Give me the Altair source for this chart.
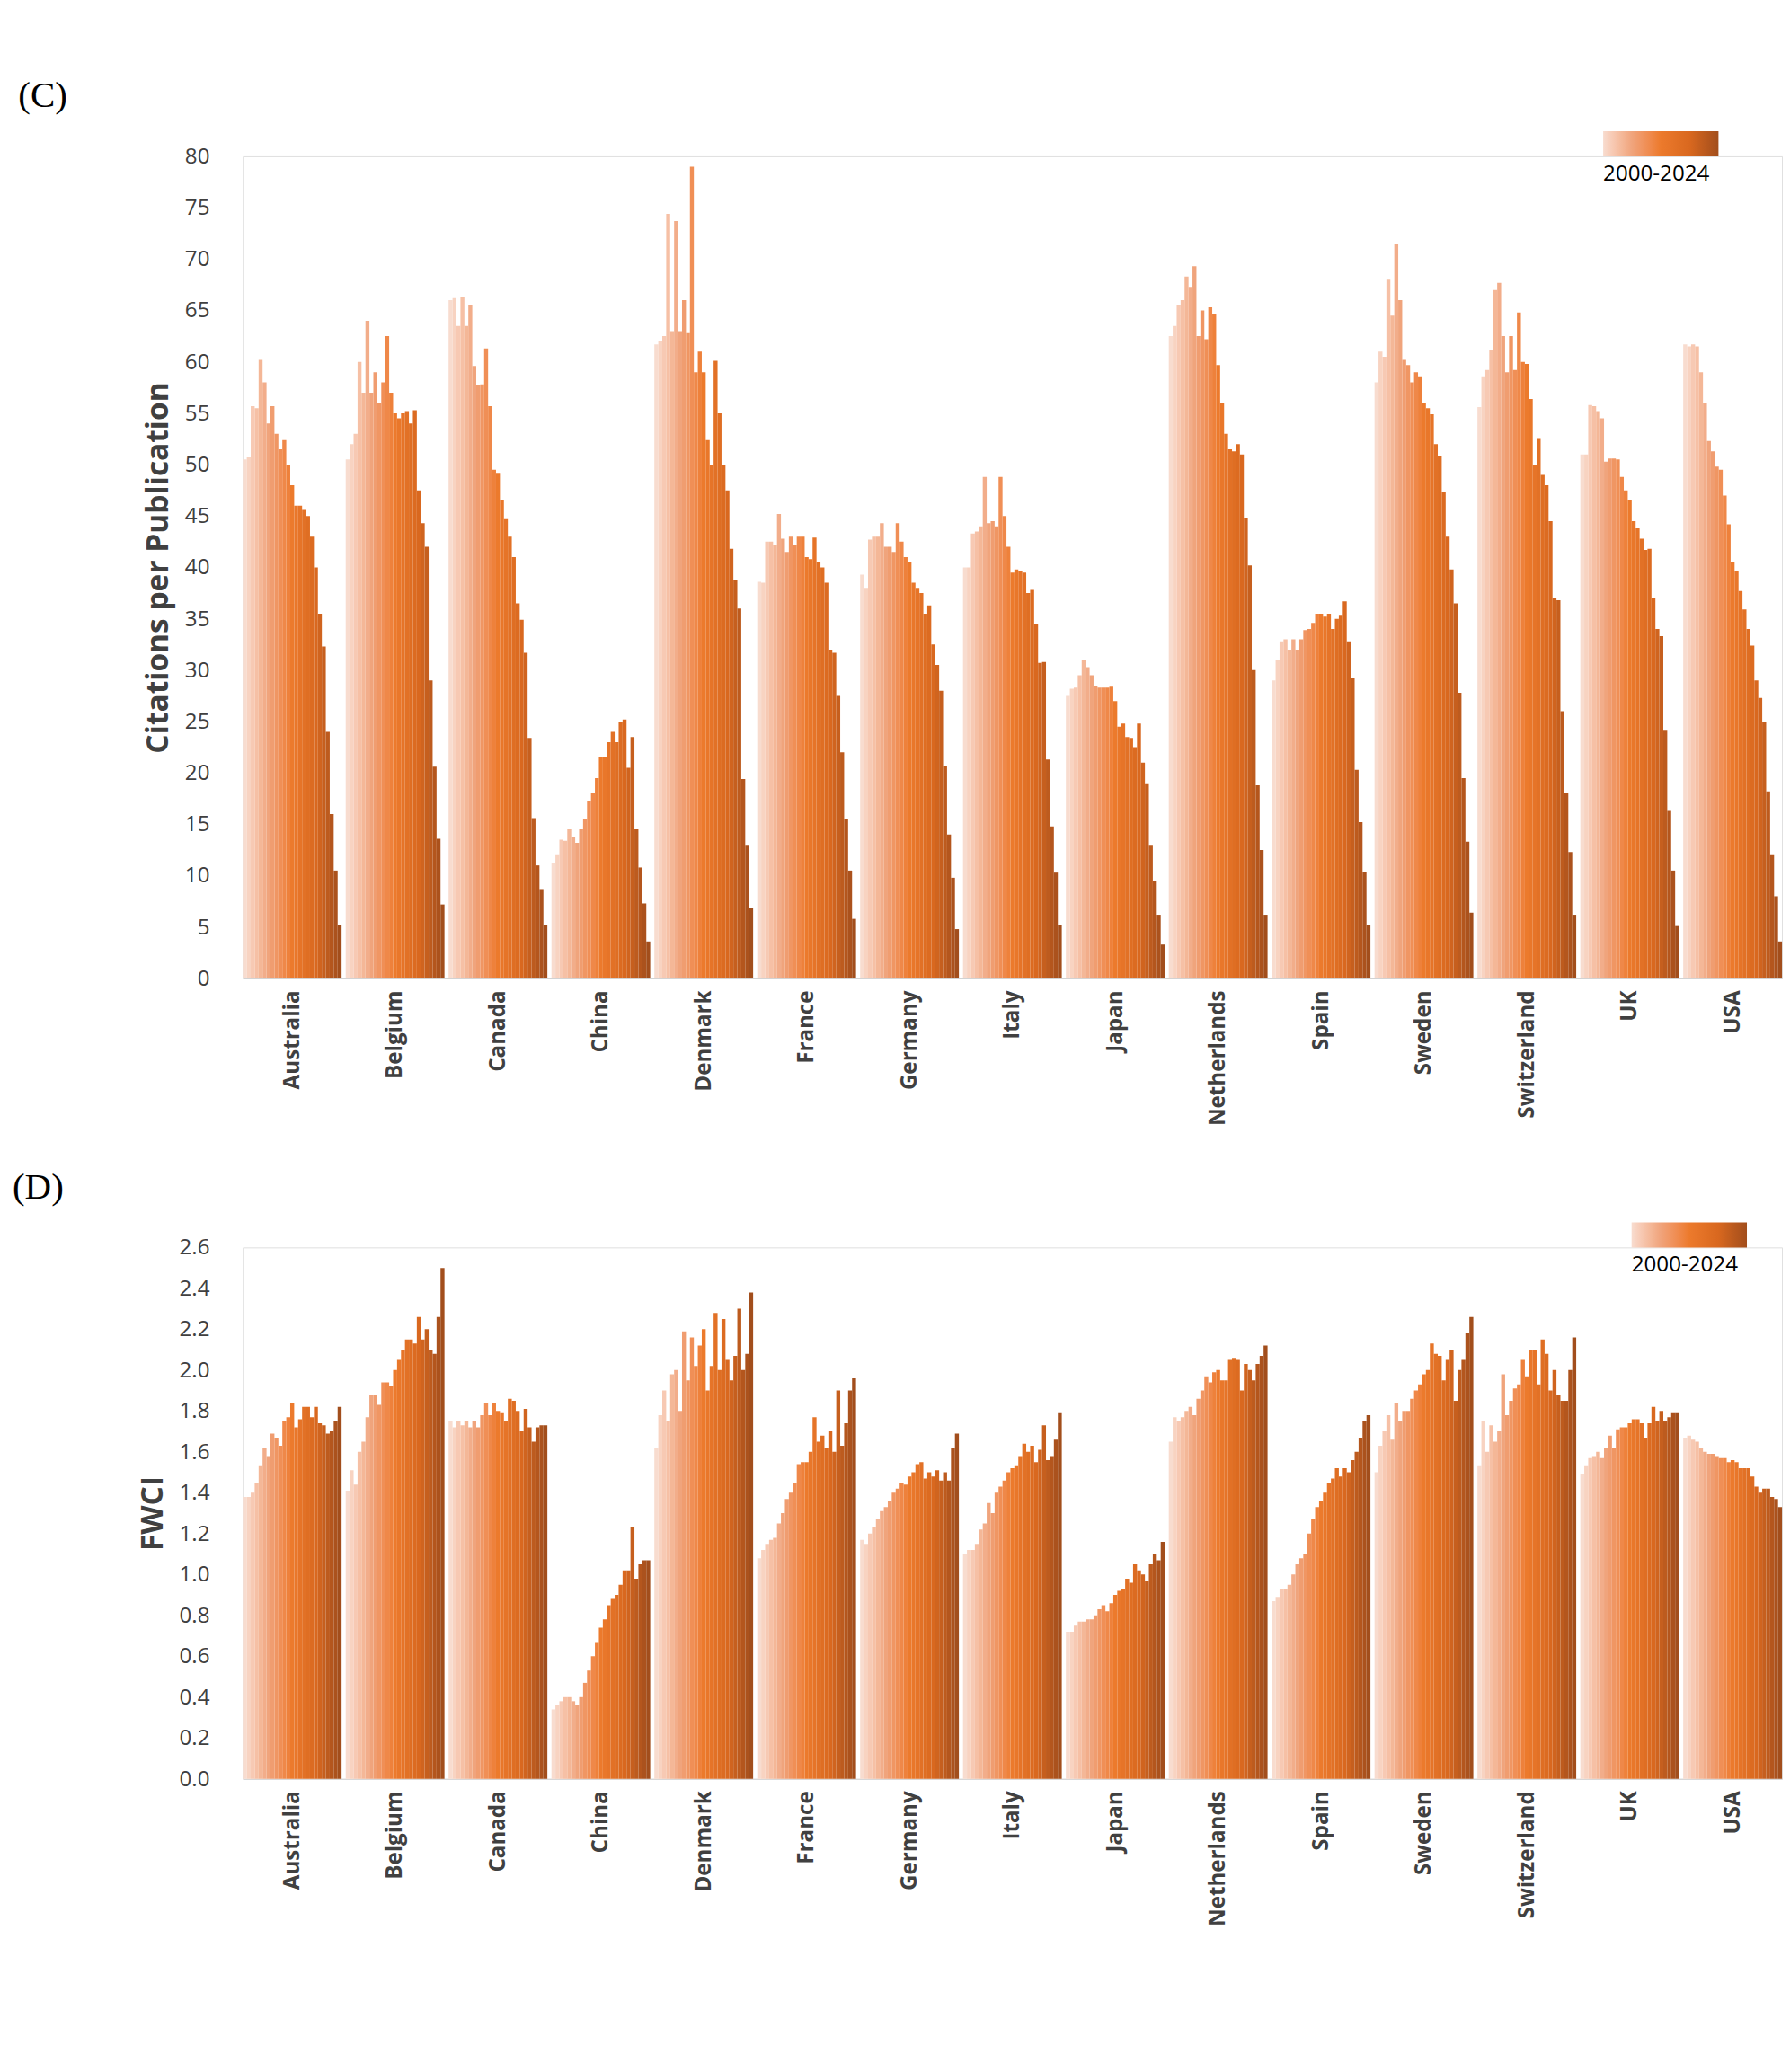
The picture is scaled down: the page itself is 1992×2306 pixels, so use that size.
import altair as alt
import pandas as pd

countries = ["Australia", "Belgium", "Canada", "China", "Denmark", "France", "Germany",
             "Italy", "Japan", "Netherlands", "Spain", "Sweden", "Switzerland", "UK", "USA"]
years = list(range(2000, 2025))

cpp = {
    "Australia": [50.5, 50.7, 55.7, 55.5, 60.2, 58, 54, 55.7, 53, 51.5, 52.4, 50, 48, 46, 46, 45.6, 45, 43, 40, 35.5, 32.3, 24, 16, 10.5, 5.2],
    "Belgium": [50.5, 52, 53, 60, 57, 64, 57, 59, 56, 58, 62.5, 57, 55, 54.5, 55, 55.2, 54, 55.3, 47.5, 44.3, 42, 29, 20.6, 13.6, 7.2],
    "Canada": [66, 66.2, 63.5, 66.3, 63.5, 65.5, 59.6, 57.7, 57.8, 61.3, 55.7, 49.5, 49.2, 46.5, 44.7, 43, 41, 36.5, 34.9, 31.7, 23.4, 15.6, 11, 8.7, 5.2],
    "China": [11.2, 12, 13.5, 13.4, 14.5, 13.8, 13.2, 14.5, 15.5, 17.3, 18, 19.5, 21.5, 21.5, 23, 24, 23, 25, 25.2, 20.5, 23.5, 14.5, 10.8, 7.3, 3.6],
    "Denmark": [61.7, 62, 62.5, 74.4, 63, 73.7, 63, 66, 62.8, 79, 59, 61, 59, 52.4, 50, 60.1, 55, 50, 47.5, 41.8, 38.8, 36, 19.4, 13, 6.9],
    "France": [38.6, 38.5, 42.5, 42.5, 42.2, 45.2, 42.8, 41.5, 43, 42.2, 43, 43, 41, 40.8, 42.9, 40.5, 40, 38.5, 32, 31.7, 27.5, 22, 15.5, 10.5, 5.8],
    "Germany": [39.3, 38, 42.7, 43, 43, 44.3, 42, 42, 41.5, 44.3, 42.5, 41, 40.5, 38.5, 38, 37.5, 35.5, 36.3, 32.5, 30.5, 28, 20.7, 14, 9.8, 4.8],
    "Italy": [40, 40, 43.3, 43.5, 44, 48.8, 44.3, 44.5, 44, 48.8, 45, 42, 39.5, 39.8, 39.7, 39.5, 37.5, 37.8, 34.5, 30.7, 30.8, 21.3, 14.8, 10.3, 5.2],
    "Japan": [27.5, 28.2, 28.3, 29.5, 31, 30.3, 29.5, 28.5, 28.3, 28.3, 28.3, 28.4, 27, 24.5, 24.8, 23.5, 23.4, 22.5, 24.8, 21, 19, 13, 9.5, 6.2, 3.3],
    "Netherlands": [62.5, 63.5, 65.5, 66, 68.3, 67.3, 69.3, 62.5, 65, 62.2, 65.3, 64.7, 59.7, 56, 53, 51.5, 51.3, 52, 51, 44.8, 40.2, 30, 18.8, 12.5, 6.2],
    "Spain": [29, 31, 32.8, 33, 32, 33, 32, 33, 33.9, 34, 34.6, 35.5, 35.5, 35.2, 35.5, 34, 35, 35.3, 36.7, 32.8, 29.2, 20.3, 15.2, 10.4, 5.2],
    "Sweden": [58, 61, 60.5, 68, 64.5, 71.5, 66, 60.2, 59.7, 58, 59, 58.5, 56, 55.5, 54.9, 52, 50.8, 47.3, 43, 39.8, 36.5, 27.8, 19.5, 13.3, 6.4],
    "Switzerland": [55.6, 58.5, 59.2, 61.2, 67, 67.7, 62.5, 59, 62.5, 59.2, 64.8, 60, 59.8, 56.4, 50, 52.5, 49, 48, 44.5, 37, 36.8, 26, 18, 12.3, 6.2],
    "UK": [51, 51, 55.8, 55.7, 55.2, 54.5, 50.3, 50.6, 50.6, 50.5, 48.8, 47.5, 46.5, 44.5, 43.8, 42.8, 41.7, 41.8, 37, 34, 33.3, 24.2, 16.3, 10.5, 5.1],
    "USA": [61.7, 61.5, 61.7, 61.5, 59, 56, 52.3, 51.3, 49.8, 49.5, 47, 44.2, 40.5, 39.6, 37.7, 35.9, 34, 32.4, 29, 27.3, 25, 18.2, 12, 8, 3.6],
}

fwci = {
    "Australia": [1.38, 1.38, 1.4, 1.45, 1.53, 1.62, 1.58, 1.69, 1.67, 1.63, 1.75, 1.77, 1.84, 1.72, 1.76, 1.82, 1.82, 1.77, 1.82, 1.74, 1.73, 1.69, 1.7, 1.75, 1.82],
    "Belgium": [1.41, 1.51, 1.44, 1.6, 1.65, 1.77, 1.88, 1.88, 1.83, 1.94, 1.94, 1.92, 2.0, 2.05, 2.1, 2.15, 2.15, 2.13, 2.26, 2.15, 2.2, 2.1, 2.08, 2.26, 2.5],
    "Canada": [1.75, 1.72, 1.75, 1.73, 1.75, 1.72, 1.75, 1.72, 1.78, 1.84, 1.78, 1.84, 1.8, 1.79, 1.75, 1.86, 1.85, 1.8, 1.7, 1.81, 1.72, 1.65, 1.72, 1.73, 1.73],
    "China": [0.34, 0.36, 0.38, 0.4, 0.4, 0.38, 0.36, 0.4, 0.47, 0.53, 0.6, 0.67, 0.74, 0.78, 0.85, 0.88, 0.9, 0.95, 1.02, 1.02, 1.23, 0.98, 1.05, 1.07, 1.07],
    "Denmark": [1.62, 1.78, 1.9, 1.75, 1.98, 2.0, 1.8, 2.19, 1.95, 2.16, 2.02, 2.12, 2.2, 1.9, 2.02, 2.28, 2.0, 2.25, 2.05, 1.95, 2.07, 2.3, 2.0, 2.08, 2.38],
    "France": [1.08, 1.12, 1.15, 1.17, 1.18, 1.25, 1.3, 1.37, 1.4, 1.45, 1.54, 1.55, 1.55, 1.6, 1.77, 1.65, 1.68, 1.62, 1.7, 1.6, 1.9, 1.63, 1.74, 1.9, 1.96],
    "Germany": [1.17, 1.15, 1.2, 1.23, 1.27, 1.31, 1.33, 1.36, 1.4, 1.42, 1.45, 1.44, 1.48, 1.5, 1.54, 1.55, 1.47, 1.5, 1.48, 1.51, 1.46, 1.5, 1.46, 1.62, 1.69],
    "Italy": [1.1, 1.12, 1.12, 1.15, 1.22, 1.25, 1.35, 1.3, 1.4, 1.43, 1.46, 1.5, 1.52, 1.53, 1.58, 1.64, 1.6, 1.63, 1.55, 1.61, 1.73, 1.56, 1.58, 1.66, 1.79],
    "Japan": [0.72, 0.72, 0.75, 0.77, 0.77, 0.78, 0.78, 0.8, 0.83, 0.85, 0.82, 0.86, 0.9, 0.92, 0.93, 0.98, 0.96, 1.05, 1.02, 1.0, 0.97, 1.05, 1.1, 1.07, 1.16],
    "Netherlands": [1.65, 1.77, 1.75, 1.77, 1.8, 1.82, 1.78, 1.86, 1.9, 1.97, 1.94, 1.99, 2.0, 1.95, 1.95, 2.05, 2.06, 2.05, 1.9, 2.03, 2.0, 1.95, 2.03, 2.07, 2.12],
    "Spain": [0.87, 0.89, 0.93, 0.93, 0.95, 1.0, 1.05, 1.08, 1.1, 1.2, 1.27, 1.33, 1.36, 1.4, 1.45, 1.47, 1.52, 1.48, 1.52, 1.5, 1.56, 1.6, 1.67, 1.75, 1.78],
    "Sweden": [1.5, 1.63, 1.7, 1.78, 1.66, 1.84, 1.75, 1.8, 1.8, 1.86, 1.9, 1.93, 1.98, 2.0, 2.13, 2.08, 2.07, 1.95, 2.05, 2.1, 1.85, 2.0, 2.05, 2.18, 2.26],
    "Switzerland": [1.53, 1.75, 1.6, 1.73, 1.65, 1.7, 1.98, 1.78, 1.85, 1.91, 1.93, 2.05, 1.97, 2.1, 2.1, 1.93, 2.15, 2.08, 1.9, 2.0, 1.88, 1.85, 1.85, 2.0, 2.16],
    "UK": [1.49, 1.53, 1.57, 1.58, 1.6, 1.57, 1.62, 1.68, 1.62, 1.71, 1.72, 1.72, 1.74, 1.76, 1.76, 1.74, 1.67, 1.74, 1.82, 1.75, 1.8, 1.75, 1.77, 1.79, 1.79],
    "USA": [1.67, 1.68, 1.66, 1.65, 1.62, 1.6, 1.59, 1.59, 1.58, 1.57, 1.57, 1.55, 1.56, 1.55, 1.52, 1.52, 1.52, 1.48, 1.43, 1.4, 1.42, 1.42, 1.38, 1.37, 1.33],
}

for d in (cpp, fwci):
    for c in countries:
        assert len(d[c]) == 25, c


def to_frame(d):
    rows = []
    for c in countries:
        for y, v in zip(years, d[c]):
            rows.append({"Country": c, "Year": y, "Value": v})
    return pd.DataFrame(rows)


def panel(df, ytitle, domain, step, fmt, height, label, legend_x):
    return (
        alt.Chart(df)
        .mark_bar()
        .encode(
            x=alt.X("Country:N", sort=countries, title=None,
                    scale=alt.Scale(paddingInner=0.04, paddingOuter=0.0),
                    axis=alt.Axis(labelAngle=-90, labelFontWeight="bold", labelFontSize=26,
                                  labelFont="Open Sans", labelColor="#404040", ticks=False,
                                  domainColor="#d0d0d0", labelPadding=14)),
            xOffset=alt.XOffset("Year:O", scale=alt.Scale(paddingInner=0, paddingOuter=0)),
            y=alt.Y("Value:Q", title=ytitle,
                    scale=alt.Scale(domain=domain, nice=False),
                    axis=alt.Axis(values=[round(i * step, 2) for i in range(int(round(domain[1] / step)) + 1)],
                                  format=fmt, grid=False, domain=False, ticks=False,
                                  labelFontSize=26, labelFont="Open Sans", labelColor="#404040",
                                  labelPadding=40, titleFontSize=36, titleFont="Open Sans",
                                  titleColor="#404040", titleFontWeight="bold", titlePadding=12)),
            color=alt.Color("Year:Q",
                            scale=alt.Scale(domain=[2000, 2024], range=["#f8dccf", "#f0a47c", "#ec7a2c", "#d9681f", "#a24e1c"]),
                            legend=alt.Legend(orient="none", legendX=legend_x, legendY=-30,
                                              direction="horizontal", labelExpr="''", labelFontSize=1,
                                              title="2000-2024", titleOrient="bottom",
                                              titleFontWeight="normal", titleFontSize=26,
                                              titleFont="Open Sans", titleColor="#000000",
                                              gradientLength=138, gradientThickness=30)),
        )
        .properties(width=1842, height=height,
                    title=alt.TitleParams(label, anchor="start", font="Liberation Serif",
                                          fontSize=44, fontWeight="normal", dx=-150, offset=20))
    )


top = panel(to_frame(cpp), "Citations per Publication", [0, 80], 5, "d", 984, "(C)", 1628)
bottom = panel(to_frame(fwci), "FWCI", [0, 2.6], 0.2, ".1f", 636, "(D)", 1662)

chart = (
    alt.vconcat(top, bottom, spacing=50)
    .resolve_scale(color="independent")
    .configure_view(stroke=None)
    .configure(background="white", padding={"left": 5, "top": 0, "right": 0, "bottom": 0})
)

chart.save("out.html", embed_options={"renderer": "svg", "actions": False})
